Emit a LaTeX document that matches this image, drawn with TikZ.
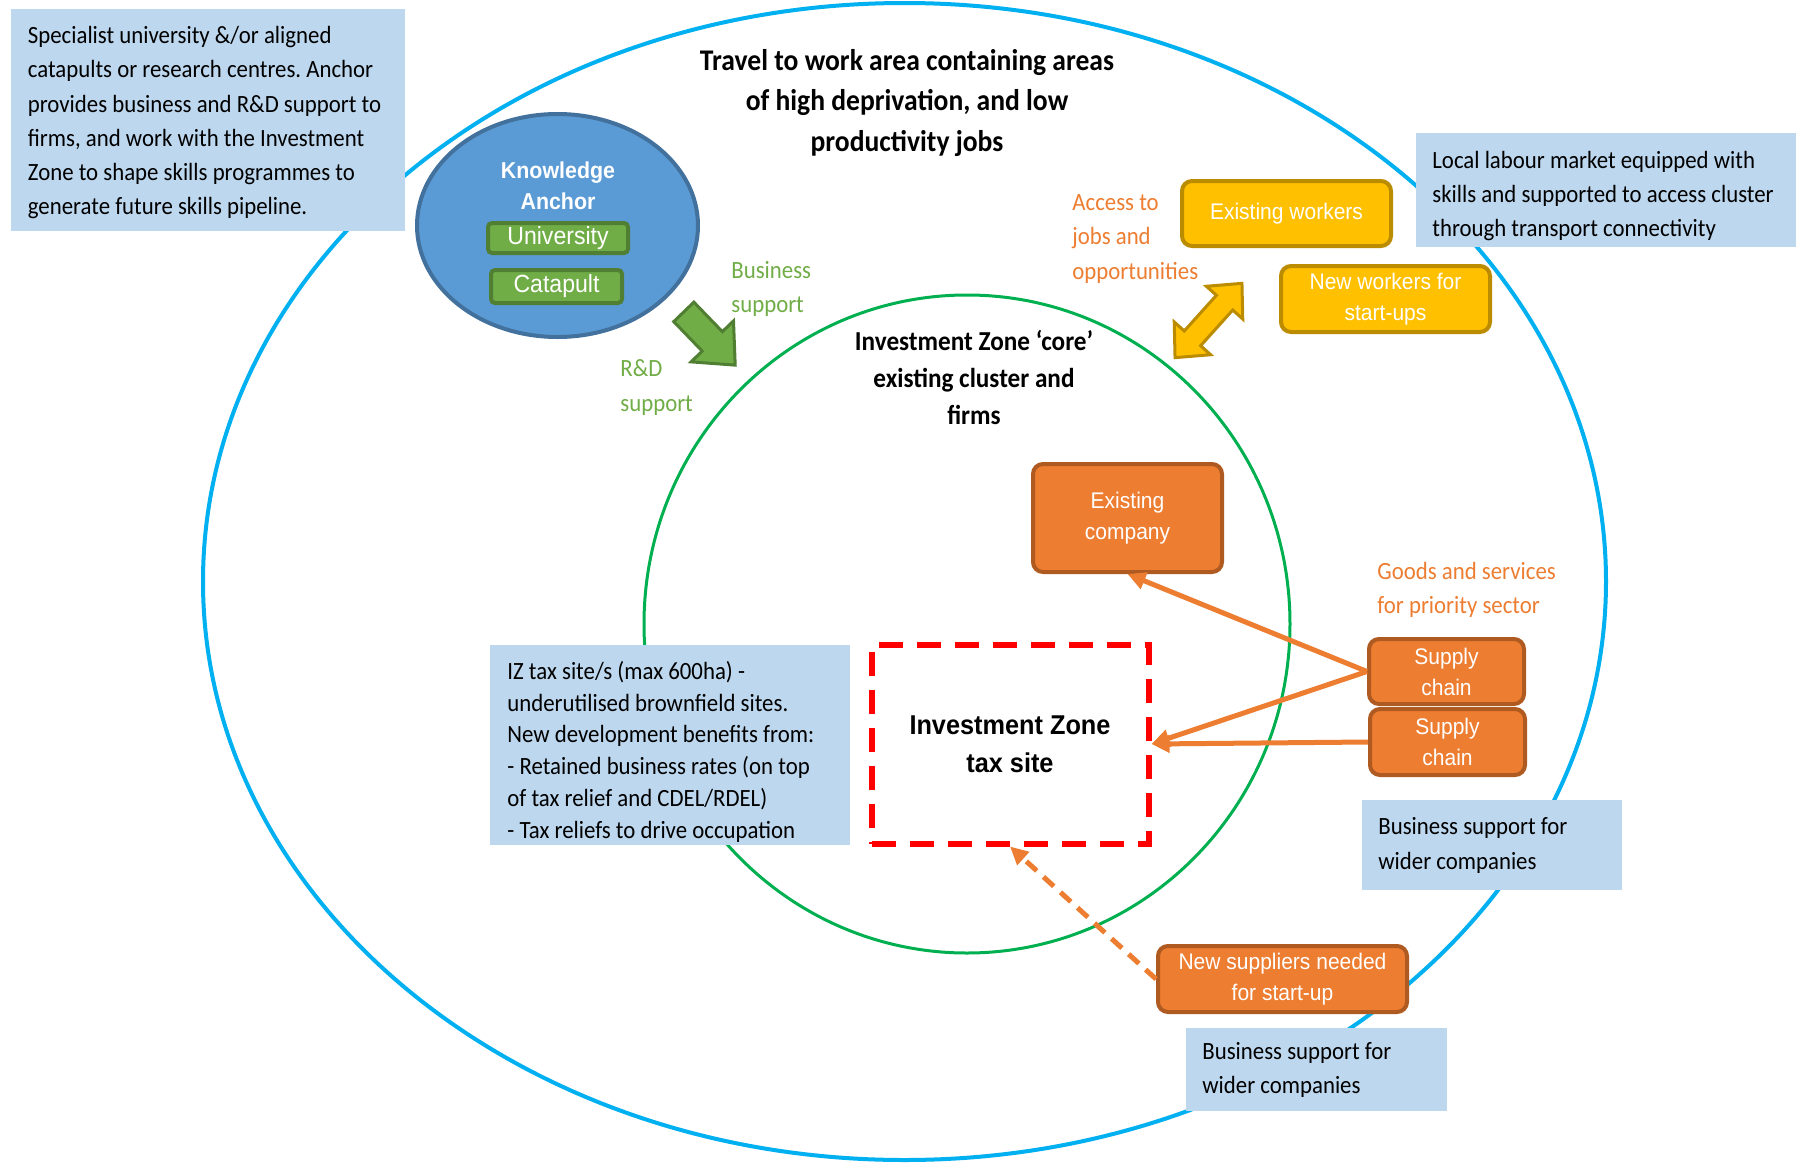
\documentclass[tikz,border=0pt]{standalone}
\usepackage{fontspec}
\setmainfont[FakeStretch=0.92]{Carlito}
\newfontfamily\arialfont[FakeStretch=0.93]{Liberation Sans}
\frenchspacing
\usepackage{xcolor}
\usepackage{tikz}
\usetikzlibrary{positioning,shapes,arrows.meta}

\definecolor{ringblue}{HTML}{00B0F0}
\definecolor{coregreen}{HTML}{00B050}
\definecolor{notefill}{HTML}{BDD7EE}
\definecolor{anchorfill}{HTML}{5B9BD5}
\definecolor{anchorline}{HTML}{41719C}
\definecolor{leaffill}{HTML}{70AD47}
\definecolor{leafline}{HTML}{507E32}
\definecolor{gold}{HTML}{FFC000}
\definecolor{goldline}{HTML}{BC8C00}
\definecolor{rust}{HTML}{ED7D31}
\definecolor{rustline}{HTML}{AE5A21}

\begin{document}
\begin{tikzpicture}[x=0.5pt, y=-0.5pt,
  notebox/.style = {fill=notefill, anchor=north west, inner sep=0pt},
  notetext/.style = {inner sep=0pt, align=left, font=\fontsize{12.4}{17.1}\selectfont},
  shapebox/.style = {rounded corners=5pt, line width=2pt, text=white, align=center, inner sep=0pt,
                 font=\arialfont\fontsize{11.3}{15.5}\selectfont},
  rustbox/.style = {shapebox, fill=rust, draw=rustline},
  goldbox/.style = {shapebox, fill=gold, draw=goldline},
  leafbox/.style = {shapebox, rounded corners=2pt, fill=leaffill, draw=leafline,
                 font=\arialfont\fontsize{12.4}{15}\selectfont},
  feed/.style = {-{Triangle[length=9pt,width=8.5pt]}, line width=2.5pt, draw=rust},
  flowlabel/.style = {anchor=west, align=left, inner sep=0pt, font=\fontsize{12.4}{17.2}\selectfont}]

  \useasboundingbox (0,0) rectangle (1796,1163);
  \fill[white] (0,0) rectangle (1796,1163);

  % the two rings
  \draw[ringblue, line width=2pt] (904.5,581.5) ellipse [x radius=350.75pt, y radius=289.25pt];
  \draw[coregreen, line width=1.5pt] (967,624) ellipse [x radius=161.5pt, y radius=164.5pt];

  % text boxes
  \node[notebox, minimum width=197pt, minimum height=111pt] (anchornote) at (11,9) {};
  \node[notetext, right=8.25pt of anchornote.west, yshift=-1.2pt] (anchortext)
    {Specialist university \&/or aligned\\catapults or research centres. Anchor\\provides business and R\&D support to\\firms, and work with the Investment\\Zone to shape skills programmes to\\generate future skills pipeline.};
  \node[notebox, minimum width=190pt, minimum height=57pt] (labournote) at (1416,133) {};
  \node[notetext, right=8pt of labournote.west, yshift=-2.8pt] (labourtext)
    {Local labour market equipped with\\skills and supported to access cluster\\through transport connectivity};
  \node[notebox, minimum width=180pt, minimum height=100pt] (sitenote) at (490,645) {};
  \node[notetext, font=\fontsize{12.4}{15.9}\selectfont, right=8.5pt of sitenote.west, yshift=-3.2pt] (sitetext)
    {IZ tax site/s (max 600ha) -\\underutilised brownfield sites.\\New development benefits from:\\- Retained business rates (on top\\of tax relief and CDEL/RDEL)\\- Tax reliefs to drive occupation};
  \node[notebox, minimum width=130pt, minimum height=45pt] (supportA) at (1362,800) {};
  \node[notetext, right=8pt of supportA.west] (supportAtext) {Business support for\\wider companies};
  \node[notebox, minimum width=130.5pt, minimum height=41.5pt] (supportB) at (1186,1028) {};
  \node[notetext, right=8pt of supportB.west] (supportBtext) {Business support for\\wider companies};

  % headings
  \node[font=\bfseries\fontsize{15}{20.3}\selectfont, align=center] (area) at (907,103)
    {Travel to work area containing areas\\of high deprivation, and low\\productivity jobs};
  \node[font=\bfseries\fontsize{13.7}{18.7}\selectfont, align=center] (core) at (974,377.5)
    {Investment Zone ‘core’\\existing cluster and\\firms};

  % knowledge anchor
  \node[ellipse, fill=anchorfill, draw=anchorline, line width=2pt, minimum width=140.5pt,
        minimum height=111.5pt] (hub) at (557.5,225.5) {};
  \node[text=white, align=center, font=\arialfont\bfseries\fontsize{11.5}{15.5}\selectfont] (hubname) at (558,186)
    {Knowledge\\Anchor};
  \node[leafbox, minimum width=70pt, minimum height=15pt] (uni) at (558,238) {University};
  \node[leafbox, minimum width=65.5pt, minimum height=16.5pt] (cat) at (556.5,286.5) {Catapult};

  % block arrows
  \draw[fill=leaffill, draw=leafline, line width=1.5pt, shift={(709.5,338.5)}, rotate=-46]
    (-37,-14) -- (4,-14) -- (4,-29.5) -- (37,0) -- (4,29.5) -- (4,14) -- (-37,14) -- cycle;
  \draw[fill=gold, draw=goldline, line width=1.5pt, shift={(1208.5,320.5)}, rotate=48]
    (-50,0) -- (-24,-24.5) -- (-24,-11) -- (24,-11) -- (24,-24.5) -- (50,0)
    -- (24,24.5) -- (24,11) -- (-24,11) -- (-24,24.5) -- cycle;

  \node[flowlabel, text=leaffill] (bizlabel) at (731,289) {Business\\support};
  \node[flowlabel, text=leaffill] (rdlabel) at (620,387.5) {R\&D\\support};

  % workers
  \node[goldbox, minimum width=104.5pt, minimum height=32.5pt] (oldwork) at (1286.5,213.5) {Existing workers};
  \node[goldbox, minimum width=104.5pt, minimum height=33pt] (newwork) at (1385.5,299) {New workers for\\start-ups};
  \node[flowlabel, text=rust] (joblabel) at (1072,239) {Access to\\jobs and\\opportunities};

  % firms and suppliers
  \node[rustbox, minimum width=94.5pt, minimum height=54pt] (firm) at (1127.5,518) {Existing\\company};
  \node[rustbox, minimum width=77.5pt, minimum height=32.5pt] (chainA) at (1446.5,671.5) {Supply\\chain};
  \node[rustbox, minimum width=77.5pt, minimum height=33pt] (chainB) at (1447.5,742) {Supply\\chain};
  \node[rustbox, minimum width=124.5pt, minimum height=33pt] (newsup) at (1282.5,979) {New suppliers needed\\for start-up};
  \node[flowlabel, text=rust] (goodslabel) at (1377,590) {Goods and services\\for priority sector};

  \node[draw=red, line width=3pt, dash pattern=on 12pt off 7pt, minimum width=138.5pt, minimum height=99.5pt,
        align=center, font=\arialfont\bfseries\fontsize{13.6}{18.9}\selectfont] (taxsite) at (1010,744)
    {Investment Zone\\tax site};

  \draw[feed] (chainA.west) to (firm.south);
  \draw[feed] (chainA.west) to (taxsite.east);
  \draw[feed] (chainB.west) to (taxsite.east);
  \draw[feed, dash pattern=on 7pt off 4.5pt] (newsup.west) to (taxsite.south);
\end{tikzpicture}
\end{document}
